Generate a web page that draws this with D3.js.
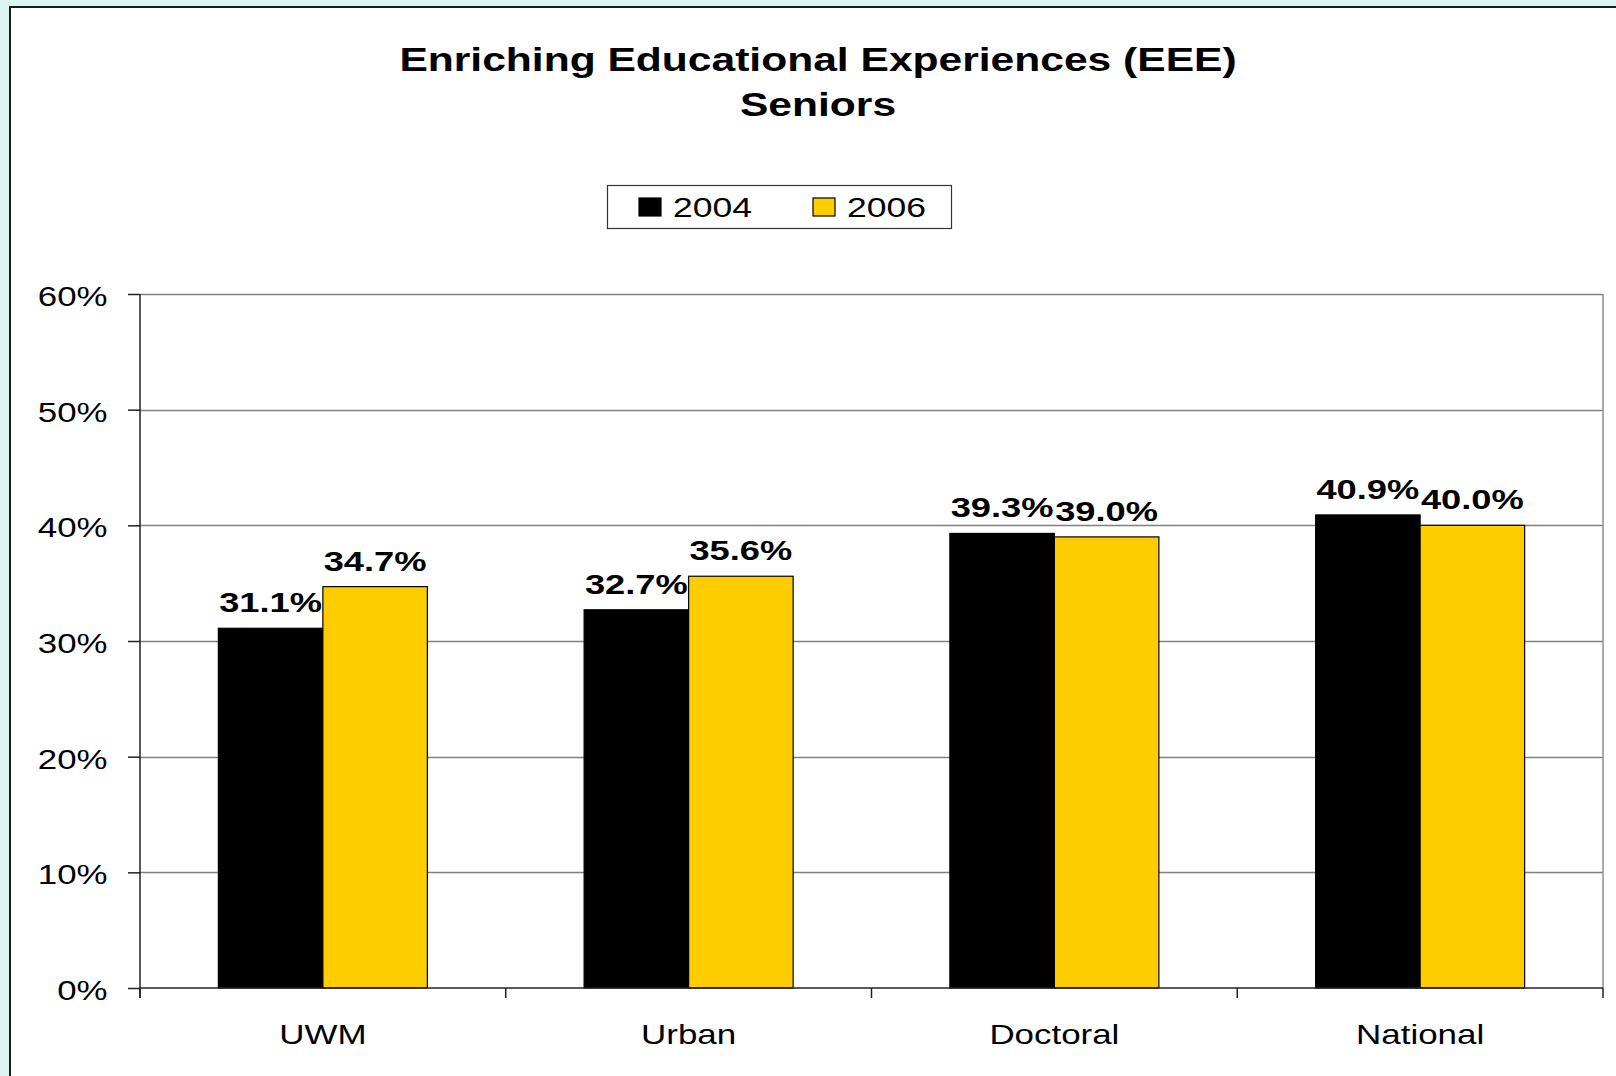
<!DOCTYPE html>
<html>
<head>
<meta charset="utf-8">
<script src="https://cdn.jsdelivr.net/npm/d3@7"></script>
<style>
  html, body { margin: 0; padding: 0; background: #dcf5f0; }
  svg { display: block; }
  text { font-family: "Liberation Sans", Arial, sans-serif; fill: #000; }
</style>
</head>
<body>
<svg id="chart" width="1616" height="1076"></svg>
<script>
const categories = ["UWM", "Urban", "Doctoral", "National"];
const seriesNames = ["2004", "2006"];
const values2004 = [0.311, 0.327, 0.393, 0.409];
const values2006 = [0.347, 0.356, 0.390, 0.400];
const yTickValues = [0, 0.1, 0.2, 0.3, 0.4, 0.5, 0.6];
const titleLines = ["Enriching Educational Experiences (EEE)", "Seniors"];
const colors = {"2004": "#000000", "2006": "#ffcc00"};

const SX = 1.29; // horizontal stretch of the original rendering
const svg = d3.select("#chart");

// chart area
svg.append("rect").attr("x", 10).attr("y", 7).attr("width", 1620).attr("height", 1080)
  .attr("fill", "#fff").attr("stroke", "#1a1a1a").attr("stroke-width", 2);

const L = 140, R = 1603, T = 294, B = 988;

const y = d3.scaleLinear().domain([0, 0.6]).range([B, T]);
const x0 = d3.scaleBand().domain(categories).range([L, R]).paddingInner(0).paddingOuter(0);
const x1 = d3.scaleBand().domain(seriesNames).range([0, x0.bandwidth()]).paddingInner(0).paddingOuter(0.75);

function stretchedText(g, x, yy, str, opts) {
  return g.append("text")
    .attr("transform", `translate(${x},${yy}) scale(${opts.sx || SX},1)`)
    .attr("text-anchor", opts.anchor || "middle")
    .attr("font-size", opts.size)
    .attr("font-weight", opts.weight || "normal")
    .text(str);
}

// title
titleLines.forEach((t, i) => {
  stretchedText(svg, 818, i === 0 ? 71 : 116, t, {size: 33, weight: "bold"});
});

// gridlines
svg.append("g").selectAll("line").data(yTickValues.filter(d => d > 0)).join("line")
  .attr("x1", L).attr("x2", R).attr("y1", d => Math.round(y(d)) + 0.5).attr("y2", d => Math.round(y(d)) + 0.5)
  .attr("stroke", "#808080").attr("stroke-width", 1.5);
// right border of plot area
svg.append("line").attr("x1", R).attr("x2", R).attr("y1", T).attr("y2", B)
  .attr("stroke", "#909090").attr("stroke-width", 1.5);

// bars
const data = categories.map((c, i) => ({cat: c, vals: [
  {s: "2004", v: values2004[i]}, {s: "2006", v: values2006[i]}]}));
const groups = svg.append("g").selectAll("g").data(data).join("g")
  .attr("transform", d => `translate(${x0(d.cat)},0)`);
groups.selectAll("rect").data(d => d.vals).join("rect")
  .attr("x", d => x1(d.s)).attr("width", x1.bandwidth())
  .attr("y", d => y(d.v)).attr("height", d => B - y(d.v))
  .attr("fill", d => colors[d.s]).attr("stroke", "#000").attr("stroke-width", 1.2);
groups.each(function(d) {
  const g = d3.select(this);
  d.vals.forEach(v => {
    stretchedText(g, x1(v.s) + x1.bandwidth() / 2, y(v.v) - 16, d3.format(".1%")(v.v),
      {size: 27.5, weight: "bold", sx: 1.32});
  });
});

// y axis
const yAxis = svg.append("g").attr("transform", `translate(${L},0)`)
  .call(d3.axisLeft(y).tickValues(yTickValues).tickFormat(d3.format(".0%")).tickSize(12).tickPadding(0));
yAxis.select(".domain").attr("stroke", "#222").attr("stroke-width", 1.5).attr("d", `M0,${T}V${B + 10}`);
yAxis.selectAll(".tick line").attr("stroke", "#222").attr("stroke-width", 1.5);
yAxis.selectAll(".tick text")
  .attr("font-size", 27).attr("font-family", "Liberation Sans, Arial, sans-serif")
  .attr("fill", "#000")
  .attr("transform", `scale(${SX},1)`)
  .attr("x", -32.5 / SX).attr("dy", "0.42em");

// x axis
const xAxis = svg.append("g").attr("transform", `translate(0,${B})`)
  .call(d3.axisBottom(x0).tickSize(0).tickPadding(0));
xAxis.select(".domain").attr("stroke", "#222").attr("stroke-width", 1.5).attr("d", `M${L},0H${R}`);
xAxis.selectAll(".tick text").remove();
xAxis.selectAll(".tick line").remove();
const boundaries = categories.map(c => x0(c)).concat([R]);
xAxis.selectAll("line.b").data(boundaries).join("line").attr("class", "b")
  .attr("x1", d => d).attr("x2", d => d).attr("y1", 0).attr("y2", 10)
  .attr("stroke", "#222").attr("stroke-width", 1.5);
categories.forEach(c => {
  stretchedText(xAxis, x0(c) + x0.bandwidth() / 2, 56, c, {size: 27.5, sx: 1.27});
});

// legend
const leg = svg.append("g");
leg.append("rect").attr("x", 607.5).attr("y", 185.5).attr("width", 344).attr("height", 43)
  .attr("fill", "#fff").attr("stroke", "#333").attr("stroke-width", 1.2);
const legX = [639, 813];
seriesNames.forEach((s, i) => {
  leg.append("rect").attr("x", legX[i]).attr("y", 198).attr("width", 22).attr("height", 18)
    .attr("fill", colors[s]).attr("stroke", "#000").attr("stroke-width", 1.2);
  stretchedText(leg, legX[i] + 34, 217, s, {size: 27.5, anchor: "start"});
});
</script>
</body>
</html>
